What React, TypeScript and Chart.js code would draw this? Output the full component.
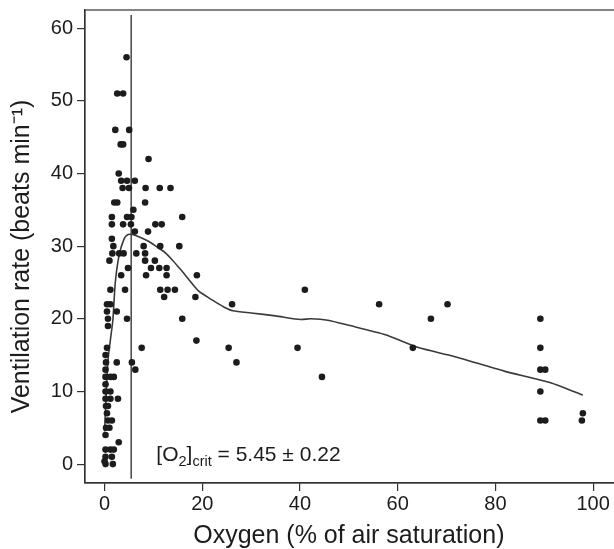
import React, { useEffect, useRef } from "react";
import { Chart, registerables } from "chart.js";

Chart.register(...registerables);

// Observed points: oxygen (% of air saturation) and ventilation rate (beats/min)
const oxygenPct: number[] = [
  4.5, 2.6, 3.8, 2.2, 5.05, 3.3, 3.8, 9.0, 2.9, 3.4, 4.6, 6.2, 3.7, 5.0, 8.4, 11.3, 13.5,
  2.0, 2.6, 8.3, 5.9, 1.5, 4.6, 5.5, 15.9, 1.5, 3.8, 5.4, 10.4, 11.7, 6.2, 8.9, 1.5,
  1.8, 8.0, 11.4, 15.3, 1.6, 3.0, 3.9, 6.5, 8.3, 1.0, 8.3, 10.3, 4.8, 9.5, 11.2, 12.7,
  3.4, 8.5, 12.7, 18.9, 1.2, 4.2, 11.4, 12.9, 14.4, 12.2, 18.6, 0.5, 1.2, 0.5, 2.5,
  0.7, 4.6, 15.9, 0.7, 18.8, 0.5, 7.6, 0.2, 0.3, 2.5, 5.6, 0.2, 6.3, 0.2, 1.2, 1.9,
  0.2, 0.2, 1.2, 0.2, 1.2, 2.75, 0.3, 0.7, 0.5, 0.7, 1.5, 0.3, 1.0, 0.2, 2.9, 0.2,
  1.2, 1.9, 0.2, 1.5, 0.2, 1.7, 0.0,
  26.1, 25.4, 27.0, 39.5, 41.0, 44.5, 56.2, 63.1, 66.8, 70.2, 89.2, 89.2, 89.2, 90.2,
  89.2, 89.2, 90.2, 97.9, 97.7,
];
const ventRate: number[] = [
  56, 51, 51, 46, 46, 44, 44, 42, 40, 39, 39, 39, 38, 38, 38, 38, 38,
  36, 36, 36, 35, 34, 34, 34, 34, 33, 33, 33, 33, 33, 32, 32, 31,
  30, 30, 30, 30, 29, 29, 29, 29, 29, 28, 28, 28, 27, 27, 27, 27,
  26, 26, 26, 26, 24, 24, 24, 24, 24, 23, 23, 22, 22, 21, 21,
  20, 20, 20, 19, 17, 16, 16, 15, 14, 14, 14, 13, 13, 12, 12, 12,
  11, 10, 10, 9, 9, 9, 8, 8, 7, 6, 6, 5, 5, 4, 3, 2,
  2, 2, 1, 1, 0, 0, 0.4,
  22, 16, 14, 16, 24, 12, 22, 16, 20, 22, 20, 16, 13, 13,
  10, 6, 6, 7, 6,
];

// Smoothed (loess) curve
const curveX: number[] = [
  0, 0.3, 0.7, 1.2, 1.7, 2.2, 3.0, 4.0, 4.8, 5.7, 7.0, 8.9, 10.5, 12.4, 14.0, 15.8,
  17.5, 19.3, 22.0, 24.5, 26.3, 30.0, 35.0, 40.1, 42.2, 45.7, 50.0, 57.5, 64.4, 71.4,
  81.8, 91.3, 97.9,
];
const curveY: number[] = [
  4.5, 9.0, 14.3, 17.1, 19.8, 25.0, 28.8, 31.0, 31.6, 31.6, 31.3, 30.7, 30.0, 29.1, 28.0, 26.6,
  25.2, 23.8, 22.6, 21.6, 21.1, 20.8, 20.4, 19.9, 20.0, 19.8, 19.1, 17.8, 16.0, 14.85,
  12.8, 11.2, 9.5,
];

// Critical oxygen level
const critO2 = 5.45;
const critLineY: number[] = [-2.0, 61.8];

const xTicks: number[] = [0, 20, 40, 60, 80, 100];
const yTicks: number[] = [0, 10, 20, 30, 40, 50, 60];

const xTitle = "Oxygen (% of air saturation)";
const yTitle = "Ventilation rate (beats min\u207B\u00B9)";

const FONT = "'Liberation Sans', Arial, Helvetica, sans-serif";
const INK = "#1c1c1c";

export default function App() {
  const ref = useRef<HTMLCanvasElement | null>(null);

  useEffect(() => {
    const canvas = ref.current;
    if (!canvas) return;

    const boxPlugin = {
      id: "boxAndLabel",
      afterDraw(chart: any) {
        const { ctx, chartArea } = chart;
        const xs = chart.scales.x;
        const ys = chart.scales.y;
        ctx.save();
        ctx.strokeStyle = "#333";
        ctx.lineWidth = 1.2;
        ctx.strokeRect(chartArea.left, chartArea.top, chartArea.right - chartArea.left, chartArea.bottom - chartArea.top);

        // axis titles
        ctx.font = `25px ${FONT}`;
        ctx.fillStyle = INK;
        ctx.textAlign = "center";
        ctx.textBaseline = "middle";
        const xMid = (xs.getPixelForValue(-4) + xs.getPixelForValue(104)) / 2;
        ctx.fillText(xTitle, xMid, 536);

        ctx.save();
        ctx.translate(22, (chartArea.top + chartArea.bottom) / 2 + 10);
        ctx.rotate(-Math.PI / 2);
        ctx.fillText(yTitle, 0, 0);
        ctx.restore();

        // annotation text
        let x = xs.getPixelForValue(10.6);
        const base = ys.getPixelForValue(0.4);
        const big = 21;
        const small = 14.5;
        ctx.textBaseline = "alphabetic";
        ctx.textAlign = "left";
        const put = (t: string, size: number, dy: number) => {
          ctx.font = `${size}px ${FONT}`;
          ctx.fillText(t, x, base + dy);
          x += ctx.measureText(t).width;
        };
        put("[O", big, 0);
        put("2", small, 5);
        put("]", big, 0);
        put("crit", small, 5);
        put(" = 5.45 \u00B1 0.22", big, 0);
        ctx.restore();
      },
    };

    const chart = new Chart(canvas, {
      type: "scatter",
      data: {
        datasets: [
          {
            label: "observations",
            data: oxygenPct.map((x, i) => ({ x, y: ventRate[i] })),
            backgroundColor: INK,
            borderColor: INK,
            pointRadius: 3.3,
            pointBorderWidth: 0,
            showLine: false,
            order: 1,
          },
          {
            label: "loess",
            data: curveX.map((x, i) => ({ x, y: curveY[i] })),
            showLine: true,
            borderColor: "#3a3a3a",
            borderWidth: 1.6,
            pointRadius: 0,
            tension: 0.2,
            order: 2,
          },
          {
            label: "crit",
            data: critLineY.map((y) => ({ x: critO2, y })),
            showLine: true,
            borderColor: "#2a2a2a",
            borderWidth: 1.3,
            pointRadius: 0,
            order: 3,
          },
        ],
      },
      options: {
        animation: false,
        responsive: false,
        devicePixelRatio: 1,
        layout: { padding: { top: 10, right: 1, left: 0, bottom: 0 } },
        plugins: { legend: { display: false }, tooltip: { enabled: false } },
        scales: {
          x: {
            type: "linear",
            min: -4,
            max: 105.5,
            afterFit: (s: any) => {
              s.height = 66;
              s.paddingLeft = 0;
              s.paddingRight = 0;
            },
            afterBuildTicks: (s: any) => {
              s.ticks = xTicks.map((v) => ({ value: v }));
            },
            grid: { drawOnChartArea: false, drawTicks: true, tickLength: 8, color: "#333", lineWidth: 1.2 },
            border: { display: true, color: "#333", width: 1.2 },
            ticks: { color: INK, font: { family: FONT, size: 20 }, padding: 1, maxRotation: 0, autoSkip: false },
            title: { display: false },
          },
          y: {
            type: "linear",
            min: -2.6,
            max: 62.5,
            afterFit: (s: any) => {
              s.width = 85;
              s.paddingTop = 0;
              s.paddingBottom = 0;
            },
            afterBuildTicks: (s: any) => {
              s.ticks = yTicks.map((v) => ({ value: v }));
            },
            grid: { drawOnChartArea: false, drawTicks: true, tickLength: 8, color: "#333", lineWidth: 1.2 },
            border: { display: true, color: "#333", width: 1.2 },
            ticks: { color: INK, font: { family: FONT, size: 20 }, padding: 4, autoSkip: false },
            title: { display: false },
          },
        },
      },
      plugins: [boxPlugin],
    });

    return () => chart.destroy();
  }, []);

  return (
    <div style={{ position: "absolute", left: 0, top: 0, width: 614, height: 549, overflow: "hidden", background: "#fff" }}>
      <canvas ref={ref} width={624} height={549} style={{ display: "block" }} />
    </div>
  );
}
